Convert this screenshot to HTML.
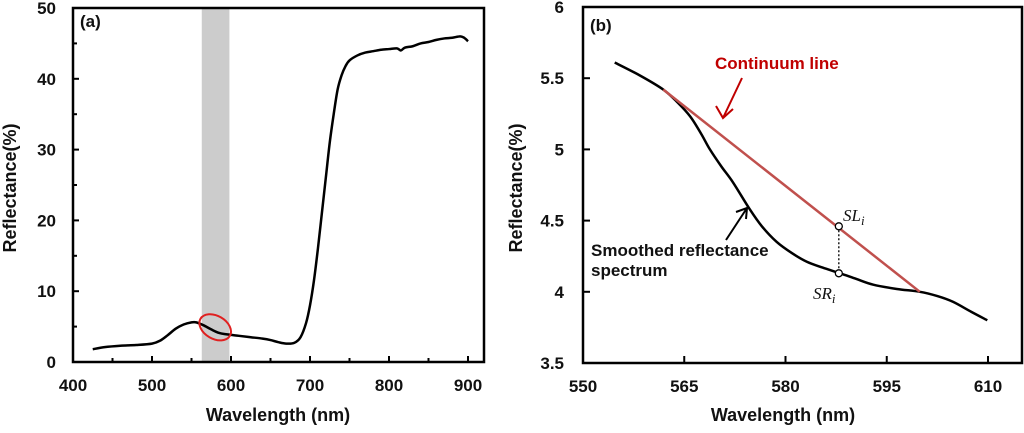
<!DOCTYPE html>
<html><head><meta charset="utf-8"><style>
body{margin:0;background:#fff;width:1024px;height:428px;overflow:hidden}
svg text{font-family:"Liberation Sans",Arial,sans-serif;font-weight:bold;fill:#111}
</style></head><body>
<svg id="c" width="1024" height="428" xmlns="http://www.w3.org/2000/svg"></svg>
<script>
// Panel (a) data
const aWave=[425,440,460,480,500,510,520,530,540,550,556,565,575,585,595,610,625,640,650,660,670,680,688,695,700,705,710,715,720,725,730,735,740,745,750,760,770,780,790,800,810,815,820,830,840,850,860,870,880,890,895,900];
const aRefl=[1.8,2.1,2.3,2.4,2.6,3.0,3.8,4.7,5.3,5.6,5.6,5.2,4.6,4.1,3.9,3.7,3.5,3.3,3.1,2.8,2.6,2.7,3.5,5.5,8,11.5,16,21,26,31,35,38.5,40.5,41.8,42.6,43.3,43.7,43.9,44.1,44.2,44.3,44.0,44.4,44.6,45.0,45.2,45.5,45.7,45.8,46.0,45.8,45.3];
const aXTicks=[400,500,600,700,800,900];
const aYTicks=[0,10,20,30,40,50];
const band=[563,598];
// Panel (b) data
const bWave=[554.7,558.4,561.9,564,565.9,567.5,568.8,570.5,572.2,574.7,576.5,578.7,581,583.2,585.5,588.1,590.5,593,596.5,599.9,602.5,604.8,607.5,609.9];
const bRefl=[5.61,5.52,5.42,5.33,5.23,5.11,5.0,4.88,4.77,4.58,4.46,4.35,4.27,4.21,4.17,4.13,4.09,4.05,4.02,4.0,3.97,3.93,3.86,3.80];
const contX=[561.9,599.9];
const contY=[5.42,4.0];
const markX=[587.9,587.9];
const markY=[4.46,4.13];
const bXTicks=[550,565,580,595,610];
const bYTicks=[3.5,4,4.5,5,5.5,6];

const svg=document.getElementById('c');const NS='http://www.w3.org/2000/svg';
function mk(t,a,p){const e=document.createElementNS(NS,t);for(const k in a)e.setAttribute(k,a[k]);(p||svg).appendChild(e);return e;}
const ax=w=>73+(w-400)*0.79, ay=v=>362-v*7.08;
const bx=w=>583+(w-550)*6.75, by=v=>363-(v-3.5)*142.4;
function smooth(pts){let d='M'+pts[0][0]+' '+pts[0][1];
 for(let i=0;i<pts.length-1;i++){const p0=pts[i-1]||pts[i],p1=pts[i],p2=pts[i+1],p3=pts[i+2]||p2;
  d+=` C${p1[0]+(p2[0]-p0[0])/6} ${p1[1]+(p2[1]-p0[1])/6} ${p2[0]-(p3[0]-p1[0])/6} ${p2[1]-(p3[1]-p1[1])/6} ${p2[0]} ${p2[1]}`;}
 return d;}

let e=mk('rect',{x:ax(band[0]),y:8,width:ax(band[1])-ax(band[0]),height:354,fill:'#cccccc'});


e=mk('path',{d:smooth(aWave.map((w,i)=>[ax(w),ay(aRefl[i])])),fill:'none',stroke:'#000','stroke-width':2.5,'stroke-linejoin':'round'});


e=mk('ellipse',{cx:ax(580),cy:ay(4.9),rx:17,ry:11.5,fill:'none',stroke:'#e02020','stroke-width':2,transform:`rotate(30 ${ax(580)} ${ay(4.9)})`});


e=mk('rect',{x:73,y:8,width:411,height:354,fill:'none',stroke:'#000','stroke-width':2.5});


aXTicks.forEach(t=>{mk('line',{x1:ax(t),x2:ax(t),y1:362,y2:356,stroke:'#000','stroke-width':2});
 const l=mk('text',{x:ax(t),y:391,'text-anchor':'middle','font-size':17});l.textContent=t;
 
 
 if(t<900)mk('line',{x1:ax(t+50),x2:ax(t+50),y1:362,y2:358,stroke:'#000','stroke-width':2});});
aYTicks.forEach(t=>{mk('line',{x1:73,x2:79,y1:ay(t),y2:ay(t),stroke:'#000','stroke-width':2});
 if(t<50)mk('line',{x1:73,x2:77,y1:ay(t+5),y2:ay(t+5),stroke:'#000','stroke-width':2});
 const l=mk('text',{x:56,y:ay(t)+6,'text-anchor':'end','font-size':17});l.textContent=t;
 
 });
e=mk('text',{x:278,y:421,'text-anchor':'middle','font-size':18});e.textContent='Wavelength (nm)';


e=mk('text',{x:0,y:0,'text-anchor':'middle','font-size':18,transform:'translate(16,188) rotate(-90)'});e.textContent='Reflectance(%)';


e=mk('text',{x:80,y:27,'font-size':17});e.textContent='(a)';



e=mk('path',{d:smooth(bWave.map((w,i)=>[bx(w),by(bRefl[i])])),fill:'none',stroke:'#000','stroke-width':2.5,'stroke-linejoin':'round'});


e=mk('line',{x1:bx(contX[0]),y1:by(contY[0]),x2:bx(contX[1]),y2:by(contY[1]),stroke:'#c0504d','stroke-width':2.5});


e=mk('line',{x1:bx(markX[0]),y1:by(markY[0]),x2:bx(markX[1]),y2:by(markY[1]),stroke:'#000','stroke-width':1.3,'stroke-dasharray':'2,2'});


markX.forEach((x,i)=>{const c=mk('circle',{cx:bx(x),cy:by(markY[i]),r:3.5,fill:'#fff',stroke:'#000','stroke-width':1.3});
 
 });
e=mk('rect',{x:583,y:7,width:439,height:356,fill:'none',stroke:'#000','stroke-width':2.5});


bXTicks.forEach(t=>{mk('line',{x1:bx(t),x2:bx(t),y1:363,y2:356,stroke:'#000','stroke-width':2});
 const l=mk('text',{x:bx(t),y:392,'text-anchor':'middle','font-size':17});l.textContent=t;
 
 });
bYTicks.forEach(t=>{mk('line',{x1:583,x2:590,y1:by(t),y2:by(t),stroke:'#000','stroke-width':2});
 const l=mk('text',{x:564,y:by(t)+6,'text-anchor':'end','font-size':17});l.textContent=t;
 
 });
e=mk('text',{x:783,y:421,'text-anchor':'middle','font-size':18});e.textContent='Wavelength (nm)';


e=mk('text',{x:0,y:0,'text-anchor':'middle','font-size':18,transform:'translate(522,188) rotate(-90)'});e.textContent='Reflectance(%)';


e=mk('text',{x:590,y:31,'font-size':17});e.textContent='(b)';


e=mk('text',{x:715,y:69,'font-size':17,style:'fill:#c00000'});e.textContent='Continuum line';


e=mk('path',{d:'M742 78 L723 118 M716 106 L723 118 L733 109',fill:'none',stroke:'#c00000','stroke-width':2});


e=mk('text',{x:591,y:256,'font-size':17});e.textContent='Smoothed reflectance';


e=mk('text',{x:591,y:276,'font-size':17});e.textContent='spectrum';


e=mk('path',{d:'M726 240 L747 208 M736 212 L747 208 L746 219',fill:'none',stroke:'#000','stroke-width':2});


function it(x,y,main,sub,name){const t=mk('text',{x:x,y:y,'font-size':17,style:'font-family:"Liberation Serif",serif;font-style:italic;font-weight:normal'});
 t.textContent=main;const s=mk('tspan',{'font-size':13,dy:4},t);s.textContent=sub;
 
 }
it(843,221,'SL','i','sl-label');
it(813,299,'SR','i','sr-label');
</script>
</body></html>
